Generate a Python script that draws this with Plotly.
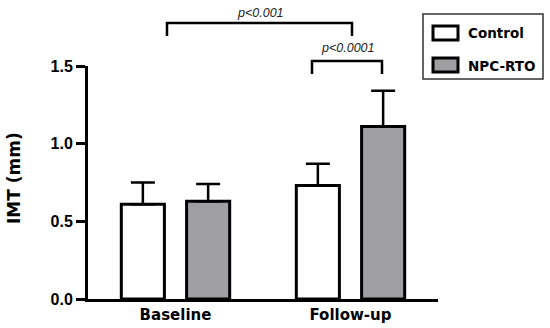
import plotly.graph_objects as go

categories = ["Baseline", "Follow-up"]
control_mean = [0.61, 0.73]
control_sd = [0.14, 0.14]
npc_mean = [0.63, 1.11]
npc_sd = [0.11, 0.23]
series_names = ["Control", "NPC-RTO"]
ytick_vals = [0.0, 0.5, 1.0, 1.5]
ytick_text = ["0.0", "0.5", "1.0", "1.5"]
pvals = ["p<0.001", "p<0.0001"]

W, H = 550, 328
L, R, T, B = 88, 438, 66, 299
GRAY = "#9f9fa3"

def px(xp):
    return (xp - L) / (R - L)

def py(yp):
    return (B - yp) / (B - T)

fig = go.Figure()
for name, mean, sd, fill in [(series_names[0], control_mean, control_sd, "white"),
                             (series_names[1], npc_mean, npc_sd, GRAY)]:
    fig.add_trace(go.Bar(
        x=categories, y=mean, name=name,
        marker=dict(color=fill, line=dict(color="black", width=3)),
        error_y=dict(type="data", array=sd, arrayminus=[0] * len(sd), symmetric=False,
                     color="black", thickness=2.5, width=12),
        showlegend=False,
    ))

shapes = []
annotations = []

def bracket(x0, x1, ytop, ybot):
    shapes.append(dict(type="path", xref="paper", yref="paper",
                       path=f"M {px(x0)} {py(ybot)} L {px(x0)} {py(ytop)} L {px(x1)} {py(ytop)} L {px(x1)} {py(ybot)}",
                       line=dict(color="black", width=2.5)))

bracket(167, 352, 23, 36)
bracket(312, 382, 61, 74)
annotations.append(dict(xref="paper", yref="paper", x=px(260), y=py(13), text="<i>" + pvals[0] + "</i>",
                        xanchor="center", yanchor="middle",
                        showarrow=False, font=dict(family="Liberation Sans", size=12.5, color="#222")))
annotations.append(dict(xref="paper", yref="paper", x=px(347), y=py(48), text="<i>" + pvals[1] + "</i>",
                        xanchor="center", yanchor="middle",
                        showarrow=False, font=dict(family="Liberation Sans", size=12.5, color="#222")))

# legend
shapes.append(dict(type="rect", xref="paper", yref="paper", x0=px(423), x1=px(543), y0=py(79), y1=py(14),
                   line=dict(color="#333", width=1.5), fillcolor="white"))
for i, (name, fill) in enumerate([(series_names[0], "white"), (series_names[1], GRAY)]):
    y0 = 25 + i * 32
    shapes.append(dict(type="rect", xref="paper", yref="paper", x0=px(433), x1=px(458),
                       y0=py(y0 + 15), y1=py(y0 + 1), line=dict(color="black", width=3), fillcolor=fill))
    annotations.append(dict(xref="paper", yref="paper", x=px(466), y=py(y0 + 8.5), text=name,
                            xanchor="left", yanchor="middle", showarrow=False,
                            font=dict(family="DejaVu Sans", size=13.5, color="black", weight="bold")))

annotations.append(dict(xref="paper", yref="paper", x=px(14), y=py(178), text="IMT (mm)", textangle=-90,
                        xanchor="center", yanchor="middle",
                        showarrow=False, font=dict(family="DejaVu Sans", size=17, color="black", weight="bold")))

fig.update_layout(
    template="none",
    width=W, height=H,
    margin=dict(l=L, r=W - R, t=T, b=H - B, pad=0),
    paper_bgcolor="white", plot_bgcolor="white",
    barmode="group", bargap=0.254, bargroupgap=0.34,
    shapes=shapes, annotations=annotations,
    xaxis=dict(range=[-0.5, 1.5], showline=True, linecolor="black", linewidth=3, ticks="",
               showgrid=False, zeroline=False, automargin=False,
               tickfont=dict(family="DejaVu Sans", size=15, color="black", weight="bold")),
    yaxis=dict(range=[0, 1.5], tickvals=ytick_vals, ticktext=ytick_text, showline=True, linecolor="black",
               linewidth=3, ticks="outside", ticklen=9, tickwidth=2.5, tickcolor="black",
               showgrid=False, zeroline=False, automargin=False,
               tickfont=dict(family="Liberation Sans", size=16, color="black", weight="bold")),
)

fig.write_html("out.html", config={"displayModeBar": False},
               post_script="document.body.style.margin='0px';")
